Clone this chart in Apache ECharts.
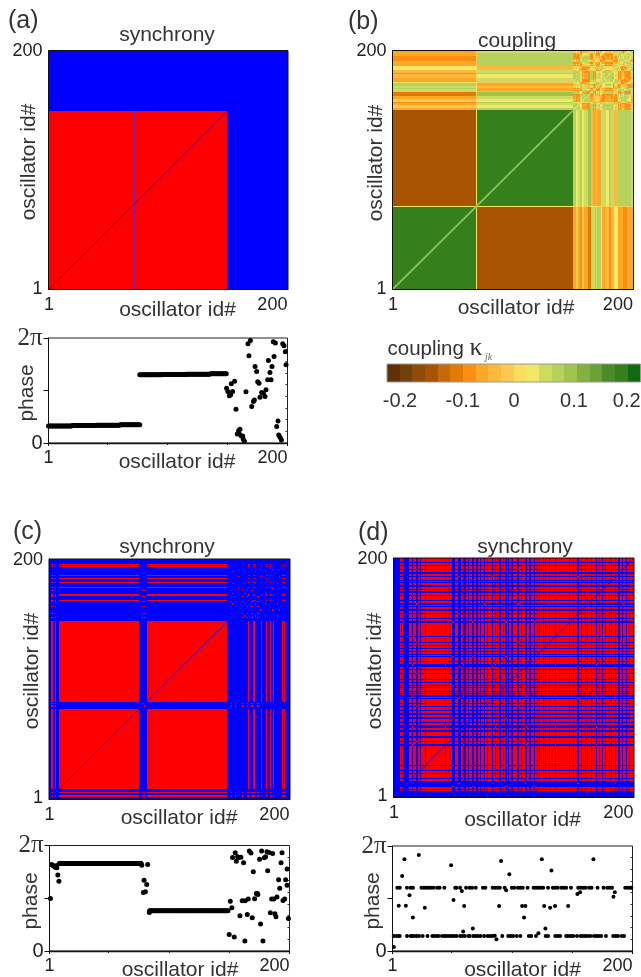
<!DOCTYPE html>
<html><head><meta charset="utf-8">
<style>html,body{margin:0;padding:0;background:#fff}#c{width:641px;height:977px}</style>
<script src="https://cdn.jsdelivr.net/npm/echarts@6/dist/echarts.min.js"></script>
</head><body><div id="c"></div>
<script>
// ---------- data ----------
const OSC_COUNT = 200;
const synchronyColors = ['#0000ff', '#ff0000', '#8a1a9e'];
const couplingPalette = ['#5e3206','#74400a','#8e4c08','#a85302','#c46a08','#e07c04','#fb9010','#fba828','#fdb83e','#fdca50',
                         '#fade5e','#f2e868','#cbdc60','#b6d25a','#9fc44e','#84b040','#6aa034','#4a8c28','#35801c','#0f6a10'];
const colorbarTickLabels = ['-0.2','-0.1','0','0.1','0.2'];

// (a) synchrony
const aLocked = [[1,149]];
const aSeamColumn = 72;
const aDiagonalEnd = 149;
// (c) synchrony
const cLocked = [3,6,[9,75],[82,148],166,170,171,177,181,184,187,194,196];
const cClusters = [[3,6,78,80,152,155,161,165,169,174],[153,163,172,180,190],[158,176,186,192]];
const cDiagonalEnd = 200;
// (d) synchrony: oscillators outside the two locked levels
const dOff = [1,2,3,4,5,7,9,10,11,12,13,16,20,23,27,44,47,50,51,55,56,59,60,63,66,67,70,73,76,79,83,85,87,89,92,94,96,99,104,107,110,111,114,118,120,122,125,127,130,135,147,150,154,157,160,162,165,169,172,174,177,180,182,185,188,191,194,197];
const dClusters = [[9,27,50,66,94,118,147],[16,44,59,85,111,135,169],[12,55,83,110,154,185],[20,47,76,104,130,162,191]];
const dDiagonalEnd = 200;

// (b) coupling
const bGroupA = 70, bGroupB = 150;
const bDiagonalEnd = 150;
const kappaSame = 0.165, kappaCross = -0.135, kappaSeam = 0.02;
const bDriftCoupling = [-.06,-.06,-.02,-.02,-.05,-.05,-.07,-.02,-.02,-.05,-.05,-.05,-.09,-.09,-.09,.04,.05,.05,.06,.04,.06,.06,.06,.02,-.05,
                        -.05,-.05,-.035,-.03,-.035,-.08,-.04,-.04,-.04,.03,.03,.03,-.06,-.06,-.06,-.06,-.07,-.07,-.07,-.07,-.06,-.06,-.06,-.05,-.05];

// phase panels: plateau runs [from, to, phase] and loose points [id, phase]
const aPlateaus = [[1,20,1.02],[21,40,1.04],[41,60,1.06],[61,77,1.09],[77,95,4.08],[96,115,4.10],[116,135,4.12],[136,149,4.15]];
const aScatter = [[149.3,3.28],[150.4,3.08],[151.6,2.82],[152.7,2.88],[154.3,3.08],[153.2,3.54],[156,3.7],[157.1,2.02],[158.2,.54],[159.3,.74],
  [160.4,.82],[159.9,.54],[161.6,.42],[162.7,.42],[163.2,.22],[164.1,.1],[165.4,3.06],[167.1,5.94],[169.1,6.14],[167.9,5.22],[170.2,2.18],
  [171.6,2.48],[172.4,2.58],[173,4.58],[174.3,4.28],[175.2,3.66],[176.3,3.58],[177.1,2.74],[178.5,3.02],[179.9,2.98],[181.3,2.78],[182.1,3.18],
  [183.5,3.78],[184.1,4.94],[185.4,4.22],[186.3,3.78],[187.1,4.58],[188.8,5.18],[188.2,6.06],[189.9,5.98],[191,.98],[192.1,1.32],[192.7,.48],
  [193.8,.34],[194.9,.18],[196,5.94],[197.1,5.82],[198.2,5.46],[198.8,4.68]];
const cPlateaus = [[9,77,5.21],[84,149,2.40]];
const cScatter = [[1.8,3.13],[2.7,5.15],[3.5,5.11],[4.6,5.07],[5.4,5.01],[6.3,4.97],[7.1,4.96],[6.8,5.07],[7.9,4.52],[8.8,4.16],[77.5,5.11],[82.4,5.15],
  [79.4,4.22],[81.6,3.96],[78.8,3.49],[80.5,3.53],[83.8,2.3],[150.9,2.97],[152.2,2.58],[150,.99],[154.2,.83],[152.8,5.57],[155,5.85],[155.9,5.35],
  [157,5.61],[158.1,5.57],[159.7,5.59],[161.9,5.25],[158.9,2.1],[160.8,2.99],[163,.59],[163.3,2.99],[165,2.18],[165.8,3.09],[166.7,5.95],[168,5.83],
  [169.1,1.98],[170,4.72],[171.1,3.11],[172.5,3.43],[173.3,3.43],[173.8,3.37],[175.2,5.47],[176,1.61],[176.9,5.95],[178,.59],[179.1,5.55],[180.2,5.61],
  [181.3,5.91],[181.9,4.78],[183,5.87],[184.1,2.28],[185.2,3.09],[186.9,3.09],[186,5.81],[187.9,2.22],[188.8,2.04],[189.6,3.21],[191,4.24],[191.9,3.73],
  [193,5.25],[193.8,5.85],[194.6,3.01],[196,3.09],[196.8,4.24],[198,4.88],[198,3.92],[199.1,1.94]];
const dUpperPhase = 3.79, dLowerPhase = 0.90;
const dUpperIds = [5,7,13,16,18,25,27,29,31,33,35,38,40,44,53,54,57,62,65,67,70,76,78,84,86,88,90,94,100,102,105,107,109,113,118,120,122,124,126,130,134,136,138,141,143,145,149,155,157,159,161,164,166,171,176,179,181,183,194,196,198,199];
const dLowerIds = [2,4,6,7,13,16,17,19,21,23,26,30,34,36,38,39,42,44,46,48,50,52,54,57,59,61,64,65,68,70,72,74,77,80,82,84,92,97,99,101,104,107,114,116,120,128,130,136,138,140,145,147,149,151,154,157,159,161,163,165,168,170,172,174,178,184,186,188,191,193];
const dScatter = [[2.1,.24],[6.2,2.71],[9,4.49],[10.9,5.49],[12.1,2.71],[15.1,3.33],[17.9,2.0],[22.8,5.75],[27.8,2.59],[49.6,5.13],[51.6,3.05],[58.5,3.59],
  [60.4,2.69],[59.6,1.16],[67.6,1.34],[87.2,.7],[85.8,.92],[89.4,2.69],[91,5.39],[97.9,4.59],[95.2,3.63],[108.5,2.69],[111.2,2.69],[110.1,2.0],[124.8,5.49],
  [132.8,4.81],[126.7,2.69],[127.8,1.34],[131.7,2.59],[135.8,2.69],[146.6,2.69],[154.3,3.41],[156.5,3.51],[167.6,5.49],[184.2,3.25],[185.3,3.51],[122,1.06]];

// ---------- helpers ----------
const ids = Array.from({length: OSC_COUNT}, (_, i) => String(i + 1));
function toSet(runs){ const s = new Set(); runs.forEach(r => { if (Array.isArray(r)) { for (let i=r[0]; i<=r[1]; i++) s.add(i); } else s.add(r); }); return s; }
function clusterSet(clusters){ const s = new Set(); clusters.forEach(c => c.forEach(a => c.forEach(b => { if (a!==b) s.add(a*1000+b); }))); return s; }
// merge the 200x200 cells into runs along rows, and identical neighbouring rows together
function matrix(fn){
  const out = []; let prevKey = null, open = [];
  for (let y=1; y<=OSC_COUNT; y++) {
    const runs = []; let st = 1, v = fn(1,y);
    for (let x=2; x<=OSC_COUNT+1; x++) {
      const w = x<=OSC_COUNT ? fn(x,y) : null;
      if (w !== v) { runs.push([st-1, x-2, v]); st = x; v = w; }
    }
    const key = JSON.stringify(runs);
    if (key === prevKey) { open.forEach(r => { r[3] = y-1; }); }
    else { open = runs.map(r => [r[0], r[1], y-1, y-1, r[2]]); open.forEach(r => out.push(r)); prevKey = key; }
  }
  return out;
}

const aSet = toSet(aLocked);
const aMatrix = matrix((x,y) => {
  if (!(aSet.has(x) && aSet.has(y))) return 0;
  return x===aSeamColumn ? 2 : 1;
});
const cSet = toSet(cLocked), cPairs = clusterSet(cClusters);
const cMatrix = matrix((x,y) => ((cSet.has(x) && cSet.has(y)) || cPairs.has(x*1000+y)) ? 1 : 0);
const dSet = toSet(dOff), dPairs = clusterSet(dClusters);
const dMatrix = matrix((x,y) => ((!dSet.has(x) && !dSet.has(y)) || dPairs.has(x*1000+y)) ? 1 : 0);

// drifting phases of (a) steer the speckle of the drift-drift block in (b)
const driftTheta = {};
aScatter.forEach(p => { driftTheta[Math.round(p[0])] = p[1]; });
function thetaOf(id){ while (!(id in driftTheta) && id > 149) id--; return driftTheta[id] || 0; }
const bMatrix = matrix((x,y) => {
  const gx = x<=bGroupA ? 0 : x<=bGroupB ? 1 : 2, gy = y<=bGroupA ? 0 : y<=bGroupB ? 1 : 2;
  if (gx<2 && gy<2) {
    if (x===bGroupA || y===bGroupA) return kappaSeam;
    return gx===gy ? kappaSame : kappaCross;
  }
  if (x===y) return 0.0;
  if (gx===2 && gy===2) return 0.07*Math.cos(thetaOf(x)-thetaOf(y));
  const d = gx===2 ? bDriftCoupling[x-151] : bDriftCoupling[y-151];
  const other = gx===2 ? y : x;
  if (other===bGroupA) return d*0.3+0.01;
  return (gx===2 ? gy : gx)===0 ? d : -d;
});

function phasePoints(plateaus, scatter){
  const pts = [];
  plateaus.forEach(r => { for (let i=r[0]; i<=r[1]; i++) pts.push([i, r[2]]); });
  return pts.concat(scatter);
}
const aPhase = phasePoints(aPlateaus, aScatter);
const cPhase = phasePoints(cPlateaus, cScatter);
const dPhase = dUpperIds.map(i => [i, dUpperPhase]).concat(dLowerIds.map(i => [i, dLowerPhase]), dScatter);

// ---------- option ----------
const TEXT = '#333', SANS = '"Liberation Sans", Arial, sans-serif', SERIF = '"Liberation Serif", "Times New Roman", serif';
const grids = [], xAxes = [], yAxes = [], series = [];

function renderCell(params, api){
  const lo = api.coord([api.value(0), api.value(2)]);
  const hi = api.coord([api.value(1), api.value(3)]);
  const s = api.size([1, 1]);
  const left = Math.round(lo[0]-s[0]/2), right = Math.round(hi[0]+s[0]/2);
  const bottom = Math.round(lo[1]+s[1]/2), top = Math.round(hi[1]-s[1]/2);
  return {type: 'rect', shape: {x: left, y: top, width: right-left, height: bottom-top}, style: {fill: api.visual('color')}};
}
function cellSeries(xi, yi, data){
  return {type: 'custom', xAxisIndex: xi, yAxisIndex: yi, data, renderItem: renderCell, encode: {x: [0,1], y: [2,3]},
    dimensions: ['x0','x1','y0','y1','value'], silent: true, progressive: 0, animation: false, clip: false, z: 1};
}

function addMatrix(box, data, midTick, diagEnd, diagColor, diagWidth){
  const g = grids.length;
  grids.push({left: box[0], top: box[1], width: box[2]-box[0], height: box[3]-box[1], show: true, borderColor: '#111', borderWidth: 1, backgroundColor: 'transparent', z: 5});
  const lab = i => i===0 || i===OSC_COUNT-1;
  const tick = i => i===0 || i===OSC_COUNT-1 || (midTick && i===99);
  xAxes.push({gridIndex: g, type: 'category', data: ids, boundaryGap: true, z: 5,
    axisLine: {lineStyle: {color: '#111', width: 1}}, axisTick: {interval: i => lab(i), length: 3, alignWithLabel: true, lineStyle: {color: '#111'}},
    axisLabel: {interval: i => lab(i), margin: 7, color: '#222', fontSize: 18, fontFamily: SANS, alignMaxLabel: 'right', alignMinLabel: 'center', hideOverlap: false}, splitLine: {show: false}});
  yAxes.push({gridIndex: g, type: 'category', data: ids, boundaryGap: true, z: 5,
    axisLine: {lineStyle: {color: '#111', width: 1}}, axisTick: {interval: i => tick(i), length: 5, alignWithLabel: true, lineStyle: {color: '#111'}},
    axisLabel: {interval: i => lab(i), margin: 6, color: '#222', fontSize: 18, fontFamily: SANS, hideOverlap: false}, splitLine: {show: false}});
  series.push(cellSeries(xAxes.length-1, yAxes.length-1, data));
  const idx = series.length-1;
  series.push({type: 'line', xAxisIndex: xAxes.length-1, yAxisIndex: yAxes.length-1, data: [[0,0],[diagEnd-1,diagEnd-1]], symbol: 'none', silent: true, animation: false, z: 2,
    lineStyle: {color: diagColor, width: diagWidth}});
  return idx;
}

function addPhase(box, data, size){
  const g = grids.length;
  grids.push({left: box[0], top: box[1], width: box[2]-box[0], height: box[3]-box[1], show: true, borderColor: '#222', borderWidth: 1, backgroundColor: 'transparent'});
  const TWO_PI = 6.2832;
  xAxes.push({gridIndex: g, type: 'value', min: 1, max: 200, position: 'bottom', z: 5,
    axisLine: {onZero: false, lineStyle: {color: '#111', width: 1.3}}, axisTick: {customValues: [1,200], length: 3, lineStyle: {color: '#111'}},
    axisLabel: {customValues: [1,200], margin: 6, color: '#222', fontSize: 18, fontFamily: SANS, alignMaxLabel: 'right', alignMinLabel: 'center', hideOverlap: false}, splitLine: {show: false}});
  const xi = xAxes.length-1;
  xAxes.push({gridIndex: g, type: 'value', min: 1, max: 200, position: 'top', axisLine: {show: false},
    axisTick: {inside: true, customValues: [50,100,150], length: 2, lineStyle: {color: '#333'}}, axisLabel: {show: false}, splitLine: {show: false}});
  yAxes.push({gridIndex: g, type: 'value', min: 0, max: TWO_PI, position: 'left', z: 5,
    axisLine: {onZero: false, lineStyle: {color: '#111', width: 1}}, axisTick: {customValues: [0, TWO_PI/2, TWO_PI], length: 5, lineStyle: {color: '#111'}},
    axisLabel: {customValues: [0, TWO_PI], margin: 6, hideOverlap: false, formatter: v => v===0 ? '{n|0}' : '{p|2π}',
      rich: {n: {fontSize: 20, fontFamily: SANS, color: '#222'}, p: {fontSize: 25, fontFamily: SERIF, color: '#333'}}}, splitLine: {show: false}});
  const yi = yAxes.length-1;
  yAxes.push({gridIndex: g, type: 'value', min: 0, max: TWO_PI, position: 'right', axisLine: {show: false},
    axisTick: {inside: true, customValues: [.7,1.4,2.1,2.8,3.5,4.2,4.9,5.6], length: 2, lineStyle: {color: '#333'}}, axisLabel: {show: false}, splitLine: {show: false}});
  series.push({type: 'scatter', xAxisIndex: xi, yAxisIndex: yi, data, symbol: 'circle', symbolSize: size, clip: false, silent: true, itemStyle: {color: '#000', opacity: 1}, animation: false});
}

const sA = addMatrix([48.5,50.5,288,289.5], aMatrix, false, aDiagonalEnd, '#2a10d8', 1);
const sB = addMatrix([392.5,50.5,633.5,289.5], bMatrix, true, bDiagonalEnd, '#8dc050', 2);
const sC = addMatrix([49,559,290,799], cMatrix, false, cDiagonalEnd, '#2a10d8', 1);
const sD = addMatrix([393.5,558,634,797], dMatrix, false, dDiagonalEnd, '#2a10d8', 1);
addPhase([48.5,338,287.5,443], aPhase, 5);
addPhase([49.5,845.5,289.5,951], cPhase, 5);
addPhase([392.5,846,632.5,951], dPhase, 4);

// colour bar
const barCells = couplingPalette.map((_, i) => [i, i, 0, 0, -0.19 + 0.02*i]);
const gBar = grids.length;
grids.push({left: 387, top: 364, width: 253.5, height: 18, show: true, borderColor: '#999', borderWidth: 1, backgroundColor: 'transparent', z: 5});
xAxes.push({gridIndex: gBar, type: 'category', data: couplingPalette.map((_, i) => String(i)), axisLine: {show: false}, axisTick: {show: false}, axisLabel: {show: false}});
yAxes.push({gridIndex: gBar, type: 'category', data: ['k'], axisLine: {show: false}, axisTick: {show: false}, axisLabel: {show: false}});
series.push(cellSeries(xAxes.length-1, yAxes.length-1, barCells));
const sBar = series.length-1;

const pieces = couplingPalette.map((c, i) => ({gte: -0.2 + 0.02*i - (i===0 ? 1 : 0), lt: -0.2 + 0.02*(i+1) + (i===couplingPalette.length-1 ? 1 : 0), color: c}));

function txt(text, x, y, size, opts){
  opts = opts || {};
  return {type: 'text', x, y, rotation: opts.rot ? Math.PI/2 : 0, z: 20, silent: true,
    style: {text, font: (opts.font || (size + 'px ' + SANS)), fill: opts.fill || TEXT, align: opts.align || 'center', verticalAlign: 'middle'}};
}
const NAME = 'oscillator id#';
const barTickX = [400, 462.7, 514, 574, 626.7];
const graphic = [
  txt('(a)', 8, 21, 25, {align: 'left'}), txt('(b)', 348, 22, 25, {align: 'left'}), txt('(c)', 13, 532, 25, {align: 'left'}), txt('(d)', 358, 533, 25, {align: 'left'}),
  txt('synchrony', 167, 35, 21), txt('coupling', 517, 41, 21), txt('synchrony', 167, 547, 21), txt('synchrony', 525, 547, 21),
  txt(NAME, 177.5, 310, 21), txt(NAME, 516, 308, 21), txt(NAME, 179, 818, 21), txt(NAME, 522.5, 820, 21),
  txt(NAME, 177, 462, 21), txt(NAME, 180, 970, 21), txt(NAME, 522.5, 970, 21),
  txt(NAME, 29, 162, 21, {rot: true}), txt(NAME, 376, 163, 21, {rot: true}), txt(NAME, 32, 671, 21, {rot: true}), txt(NAME, 375, 671, 21, {rot: true}),
  txt('phase', 27, 393, 21, {rot: true}), txt('phase', 31, 901, 21, {rot: true}), txt('phase', 373, 901, 21, {rot: true}),
  txt('coupling', 387.5, 349, 20.5, {align: 'left'}), txt('κ', 476, 348, 26, {font: '26px ' + SERIF}),
  txt('jk', 488.5, 357, 10, {font: 'italic 10px ' + SERIF, fill: '#666'})
].concat(colorbarTickLabels.map((t, i) => txt(t, barTickX[i], 401, 20)));

const chart = echarts.init(document.getElementById('c'), null, {renderer: 'canvas', width: 641, height: 977});
chart.setOption({
  animation: false, backgroundColor: '#fff', grid: grids, xAxis: xAxes, yAxis: yAxes, series, graphic,
  visualMap: [
    {type: 'piecewise', show: false, seriesIndex: [sA, sC, sD], dimension: 4, pieces: [{value: 0, color: synchronyColors[0]}, {value: 1, color: synchronyColors[1]}, {value: 2, color: synchronyColors[2]}]},
    {type: 'piecewise', show: false, seriesIndex: [sB, sBar], dimension: 4, pieces}
  ]
});
</script></body></html>
